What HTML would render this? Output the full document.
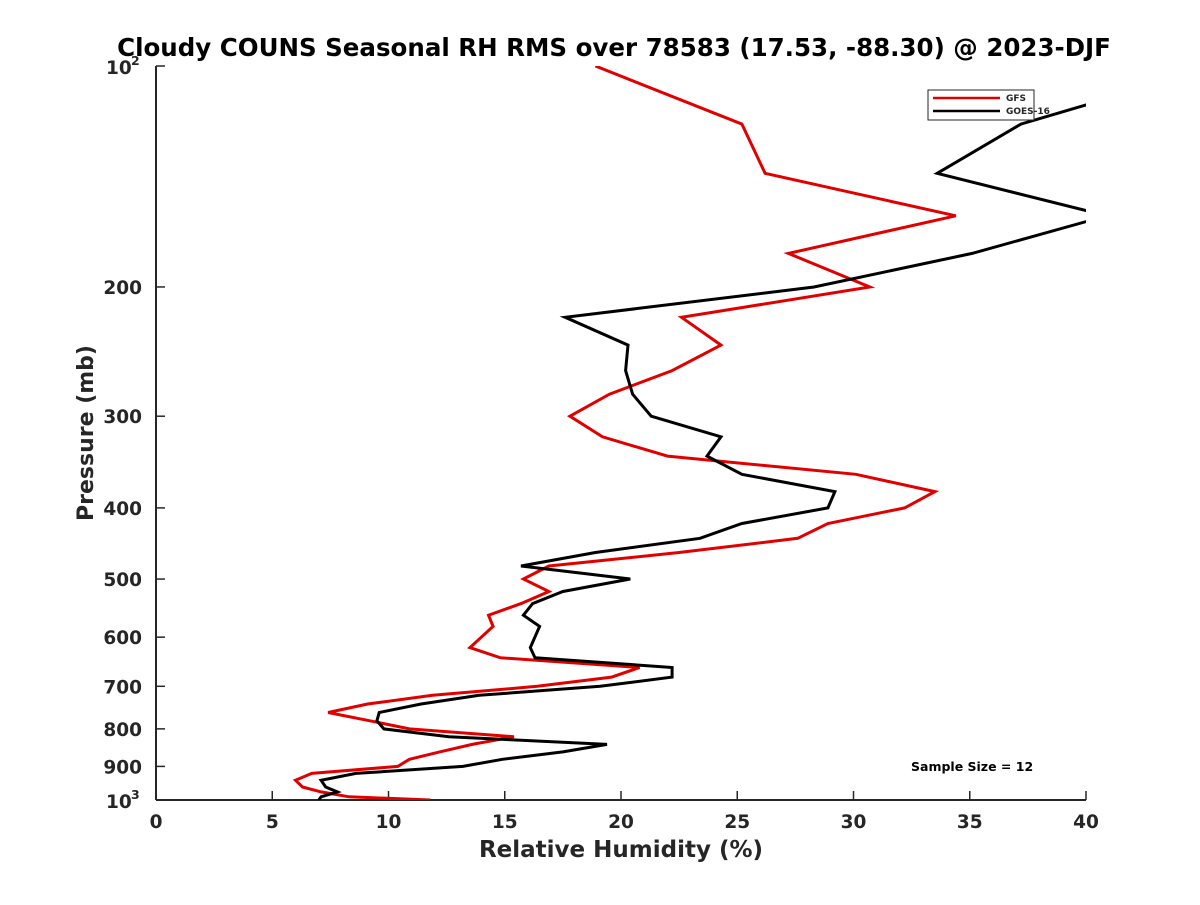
<!DOCTYPE html>
<html><head><meta charset="utf-8"><style>
body{margin:0;background:#fff;}
svg text{font-family:"DejaVu Sans","Liberation Sans",sans-serif;font-weight:bold;fill:#262626;}
</style></head><body>
<svg id="chart" width="1200" height="900" viewBox="0 0 1200 900" xmlns="http://www.w3.org/2000/svg">
<rect width="1200" height="900" fill="#fff"/>
<defs><clipPath id="plotclip"><rect x="156" y="66" width="930" height="734"/></clipPath></defs>
<text x="614" y="56" text-anchor="middle" font-size="24.5" style="fill:#000">Cloudy COUNS Seasonal RH RMS over 78583 (17.53, -88.30) @ 2023-DJF</text>
<g id="axes"></g>
<g id="series" clip-path="url(#plotclip)"></g>
<g>
<rect x="928" y="90" width="106" height="30" fill="#fff" stroke="#262626" stroke-width="1"/>
<line x1="933" y1="98" x2="1000" y2="98" stroke="#e00000" stroke-width="2.5"/>
<text x="1006" y="101" font-size="9">GFS</text>
<line x1="933" y1="111" x2="1000" y2="111" stroke="#000" stroke-width="2.5"/>
<text x="1006" y="114" font-size="9">GOES-16</text>
</g>
<text x="911" y="771" font-size="12.5" style="fill:#000">Sample Size = 12</text>
<text x="621" y="857" text-anchor="middle" font-size="23">Relative Humidity (%)</text>
<text transform="translate(93,433) rotate(-90)" text-anchor="middle" font-size="22">Pressure (mb)</text>
</svg>
<script>
const levels=[100,120,140,160,180,200,220,240,260,280,300,320,340,360,380,400,420,440,460,480,500,520,540,560,580,620,640,660,680,700,720,740,760,780,800,820,840,860,880,900,920,940,960,975,990,1000];
const gfsValues=[18.9,25.2,26.2,34.4,27.2,30.7,22.6,24.3,22.2,19.5,17.8,19.2,22.0,30.1,33.5,32.2,28.9,27.6,22.5,16.9,15.8,16.9,15.7,14.3,14.5,13.5,14.8,20.8,19.6,16.4,11.9,9.1,7.4,9.2,10.9,15.4,13.6,12.2,10.9,10.4,6.7,6.0,6.3,7.1,8.3,11.8];
const goesValues=[45.7,37.2,33.6,40.9,35.1,28.3,17.6,20.3,20.2,20.5,21.3,24.3,23.7,25.2,29.2,28.9,25.2,23.4,18.9,15.7,20.4,17.5,16.2,15.8,16.5,16.1,16.3,22.2,22.2,19.1,13.9,11.4,9.6,9.5,9.8,12.6,19.4,17.5,14.9,13.2,8.6,7.1,7.3,7.8,7.1,7.0];
const xTicks=[0,5,10,15,20,25,30,35,40];
const yTickVals=[200,300,400,500,600,700,800,900];
const NS='http://www.w3.org/2000/svg';
const X0=156,X1=1086,Y0=66,Y1=800;
function xs(v){return X0+(v-0)/(40-0)*(X1-X0);}
function ys(p){return Y0+(Math.log10(p)-2)*(Y1-Y0);}
const axes=document.getElementById('axes');
function mk(tag,attrs,parent){const e=document.createElementNS(NS,tag);for(const k in attrs)e.setAttribute(k,attrs[k]);parent.appendChild(e);return e;}
let l=mk('line',{x1:X0,y1:Y0,x2:X0,y2:Y1,stroke:'#262626','stroke-width':2},axes);


l=mk('line',{x1:X0,y1:Y1,x2:X1,y2:Y1,stroke:'#262626','stroke-width':2},axes);


xTicks.forEach(v=>{
  const x=xs(v);
  mk('line',{x1:x,y1:Y1,x2:x,y2:Y1-9,stroke:'#262626','stroke-width':1.5},axes);
  const t=mk('text',{x:x,y:828,'text-anchor':'middle','font-size':18.5},axes);
  t.textContent=v;
  
  
});
[100,1000].concat(yTickVals).forEach(p=>{
  const y=ys(p);
  mk('line',{x1:X0,y1:y,x2:X0+9,y2:y,stroke:'#262626','stroke-width':1.5},axes);
});
yTickVals.forEach(p=>{
  const t=mk('text',{x:142,y:ys(p)+7,'text-anchor':'end','font-size':18.5},axes);
  t.textContent=p;
  
  
});
[[100,'2'],[1000,'3']].forEach(([p,e])=>{
  const t=mk('text',{x:106,y:ys(p)+8,'font-size':18.5},axes);
  t.textContent='10';
  
  
  const s=mk('text',{x:131,y:ys(p)-1,'font-size':12.5},axes);
  s.textContent=e;
  
  
});
const sg=document.getElementById('series');
function line(vals,color,name){
  const pts=vals.map((v,i)=>xs(v).toFixed(1)+','+ys(levels[i]).toFixed(1)).join(' ');
  const pl=mk('polyline',{points:pts,fill:'none',stroke:color,'stroke-width':3,'stroke-linejoin':'miter'},sg);
  
  
}
line(gfsValues,'#e00000','gfs-line');
line(goesValues,'#000000','goes16-line');
</script>
</body></html>
